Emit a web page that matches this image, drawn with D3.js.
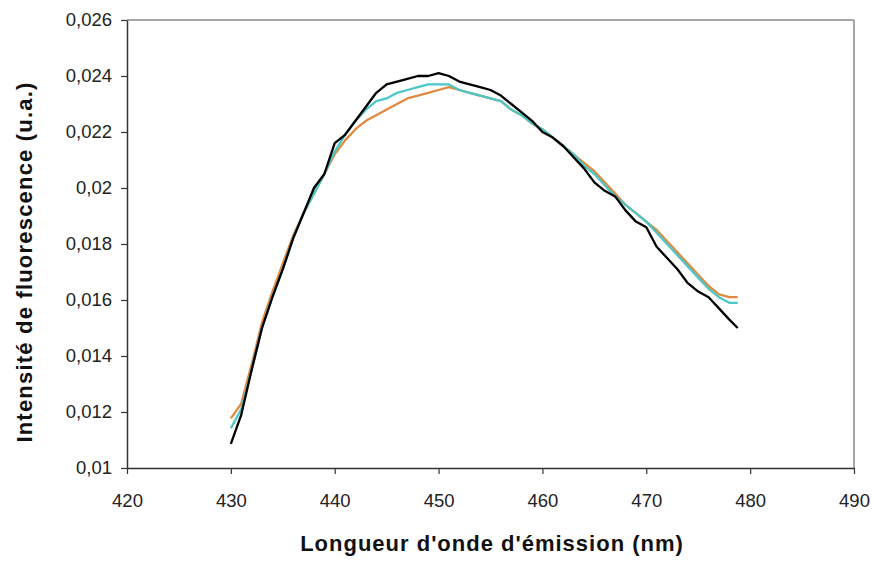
<!DOCTYPE html>
<html>
<head>
<meta charset="utf-8">
<script src="https://cdn.jsdelivr.net/npm/d3@7"></script>
<style>
  html, body { margin: 0; padding: 0; background: #fff; }
  svg { display: block; }
</style>
</head>
<body>
<svg id="chart" width="874" height="561"></svg>
<script>
const wavelengths = [430,431,432,433,434,435,436,437,438,439,440,441,442,443,444,445,446,447,448,449,450,451,452,453,454,455,456,457,458,459,460,461,462,463,464,465,466,467,468,469,470,471,472,473,474,475,476,477,478,478.8];

const seriesBlack = [0.01086,0.0119,0.0135,0.0150,0.0161,0.0171,0.0182,0.0191,0.0200,0.0205,0.0216,0.0219,0.0224,0.0229,0.0234,0.0237,0.0238,0.0239,0.0240,0.0240,0.0241,0.0240,0.0238,0.0237,0.0236,0.0235,0.0233,0.0230,0.0227,0.0224,0.0220,0.0218,0.0215,0.0211,0.0207,0.0202,0.0199,0.0197,0.0192,0.0188,0.0186,0.0179,0.0175,0.0171,0.0166,0.0163,0.0161,0.0157,0.0153,0.0150];

const seriesCyan = [0.01142,0.0121,0.0135,0.0150,0.0161,0.0171,0.0182,0.0191,0.0198,0.0205,0.0213,0.0219,0.0224,0.0228,0.0231,0.0232,0.0234,0.0235,0.0236,0.0237,0.0237,0.0237,0.0235,0.0234,0.0233,0.0232,0.0231,0.0228,0.0226,0.0223,0.0221,0.0218,0.0215,0.0212,0.0208,0.0205,0.0201,0.0197,0.0194,0.0191,0.0188,0.0184,0.0180,0.0176,0.0172,0.0168,0.0164,0.0161,0.0159,0.0159];

const seriesOrange = [0.01177,0.0123,0.0137,0.0152,0.0163,0.0173,0.0183,0.0191,0.0198,0.0205,0.0212,0.0217,0.0221,0.0224,0.0226,0.0228,0.0230,0.0232,0.0233,0.0234,0.0235,0.0236,0.0235,0.0234,0.0233,0.0232,0.0231,0.0228,0.0226,0.0223,0.0221,0.0218,0.0215,0.0212,0.0209,0.0206,0.0202,0.0198,0.0194,0.0191,0.0188,0.0185,0.0181,0.0177,0.0173,0.0169,0.0165,0.0162,0.0161,0.0161];

const xTicks = [420,430,440,450,460,470,480,490];
const yTicks = [0.01,0.012,0.014,0.016,0.018,0.02,0.022,0.024,0.026];
const xTitle = "Longueur d'onde d'émission (nm)";
const yTitle = "Intensité de fluorescence (u.a.)";

const series = [
  { name: "orange", values: seriesOrange, color: "#df8a40" },
  { name: "cyan", values: seriesCyan, color: "#4cc6c6" },
  { name: "black", values: seriesBlack, color: "#000000" }
];

const svg = d3.select("#chart");
const mLeft = 127, mRight = 854, mTop = 20, mBottom = 468;

const x = d3.scaleLinear().domain([420, 490]).range([mLeft, mRight]);
const y = d3.scaleLinear().domain([0.01, 0.026]).range([mBottom, mTop]);

// frame (top and right gray)
svg.append("line").attr("x1", mLeft).attr("x2", mRight).attr("y1", mTop).attr("y2", mTop)
  .attr("stroke", "#888").attr("stroke-width", 1.5);
svg.append("line").attr("x1", mRight).attr("x2", mRight).attr("y1", mTop).attr("y2", mBottom)
  .attr("stroke", "#888").attr("stroke-width", 1.5);

const fmt = d => String(+d.toFixed(3)).replace(".", ",");

const xAxis = svg.append("g").attr("transform", `translate(0,${mBottom})`)
  .call(d3.axisBottom(x).tickValues(xTicks).tickSize(6).tickPadding(20).tickSizeOuter(0).tickFormat(d3.format("d")));
const yAxis = svg.append("g").attr("transform", `translate(${mLeft},0)`)
  .call(d3.axisLeft(y).tickValues(yTicks).tickSize(6).tickPadding(9).tickSizeOuter(0).tickFormat(fmt));

[xAxis, yAxis].forEach(g => {
  g.select(".domain").attr("stroke", "#333").attr("stroke-width", 1.5);
  g.selectAll(".tick line").attr("stroke", "#333").attr("stroke-width", 1.2);
  g.selectAll(".tick text").attr("fill", "#222")
    .style("font-family", "'Liberation Sans', Arial, sans-serif").style("font-size", "18.5px");
});

const line = d3.line()
  .x((d, i) => x(wavelengths[i]))
  .y(d => y(d));

svg.append("g").selectAll("path").data(series).join("path")
  .attr("d", s => line(s.values))
  .attr("fill", "none")
  .attr("stroke", s => s.color)
  .attr("stroke-width", 2.3)
  .attr("stroke-linejoin", "round");

svg.append("text")
  .attr("x", 492).attr("y", 551)
  .attr("text-anchor", "middle")
  .style("font-family", "'Liberation Sans', Arial, sans-serif")
  .style("font-weight", "bold").style("font-size", "22px")
  .style("letter-spacing", "1px").attr("fill", "#111")
  .text(xTitle);

svg.append("text")
  .attr("transform", `translate(32,262) rotate(-90)`)
  .attr("text-anchor", "middle")
  .style("font-family", "'Liberation Sans', Arial, sans-serif")
  .style("font-weight", "bold").style("font-size", "22px")
  .style("letter-spacing", "1.2px").attr("fill", "#111")
  .text(yTitle);
</script>
</body>
</html>
